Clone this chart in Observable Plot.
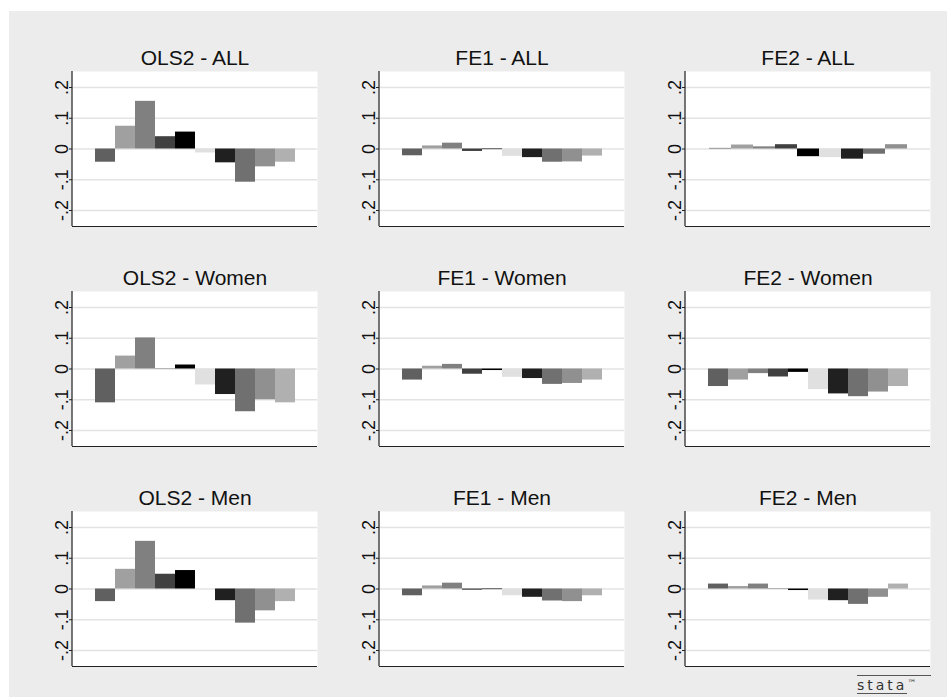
<!DOCTYPE html>
<html>
<head>
<meta charset="utf-8">
<script src="https://cdn.jsdelivr.net/npm/d3@7"></script>
<script src="https://cdn.jsdelivr.net/npm/@observablehq/plot@0.6"></script>
<style>
  html, body { margin: 0; padding: 0; background: #ffffff; }
  #wrap { position: relative; width: 947px; height: 697px; overflow: hidden; background: #ffffff; }
  #bg { position: absolute; left: 9px; top: 11px; width: 938px; height: 686px; background: #ececec; }
  .panel { position: absolute; }
  #logo { position: absolute; left: 857px; top: 675px; width: 74px; border-top: 1px solid #555;
          font-family: "DejaVu Sans", sans-serif; font-size: 14px; letter-spacing: 3px; color: #333;
          line-height: 13px; text-align: left; padding-top: 1px; white-space: nowrap; }
  #logo span { border-bottom: 1px solid #555; }
  #logo sup { font-size: 9px; letter-spacing: 0; vertical-align: 4px; }
</style>
</head>
<body>
<div id="wrap"><div id="bg"></div><div id="logo"><span>stata</span><sup>™</sup></div></div>
<script>
// ---- data ----
const categories = ["c1", "c2", "c3", "c4", "c5", "c6", "c7", "c8", "c9", "c10"];
const barColors = ["#606060", "#a0a0a0", "#808080", "#404040", "#000000",
                   "#e0e0e0", "#202020", "#707070", "#909090", "#b0b0b0"];
const yTicks = [-0.2, -0.1, 0, 0.1, 0.2];
const yTickLabels = ["-.2", "-.1", "0", ".1", ".2"];

const ols2All   = [-0.043, 0.074, 0.155, 0.040, 0.055, -0.013, -0.045, -0.108, -0.058, -0.043];
const fe1All    = [-0.022, 0.010, 0.019, -0.008, -0.002, -0.024, -0.028, -0.043, -0.042, -0.023];
const fe2All    = [0.002, 0.013, 0.007, 0.014, -0.025, -0.028, -0.033, -0.017, 0.014];
const ols2Women = [-0.110, 0.042, 0.101, 0.001, 0.013, -0.052, -0.083, -0.139, -0.100, -0.110];
const fe1Women  = [-0.036, 0.009, 0.015, -0.017, -0.005, -0.027, -0.031, -0.050, -0.047, -0.036];
const fe2Women  = [-0.057, -0.036, -0.015, -0.026, -0.011, -0.067, -0.081, -0.090, -0.075, -0.057];
const ols2Men   = [-0.041, 0.064, 0.155, 0.048, 0.060, 0.000, -0.038, -0.111, -0.071, -0.041];
const fe1Men    = [-0.022, 0.010, 0.019, -0.004, -0.002, -0.022, -0.027, -0.039, -0.041, -0.022];
const fe2Men    = [0.016, 0.008, 0.016, -0.001, -0.005, -0.036, -0.038, -0.050, -0.027, 0.016];

const panelTitles = [
  ["OLS2 - ALL", "FE1 - ALL", "FE2 - ALL"],
  ["OLS2 - Women", "FE1 - Women", "FE2 - Women"],
  ["OLS2 - Men", "FE1 - Men", "FE2 - Men"]
];
const panelValues = [
  [ols2All, fe1All, fe2All],
  [ols2Women, fe1Women, fe2Women],
  [ols2Men, fe1Men, fe2Men]
];

// ---- layout ----
const colAxisX = [72, 378.5, 685];
const rowTop = [71, 291, 511];
const mL = 40, mT = 40, mB = 4, innerW = 245, innerH = 155;
const yDomain = [-0.252, 0.252];

function panel(title, values) {
  const data = values.map((v, i) => ({cat: categories[i], v, color: barColors[i]}));
  const axisLine = (index, scales, vals, dim) => {
    const l = document.createElementNS("http://www.w3.org/2000/svg", "line");
    l.setAttribute("x1", dim.marginLeft); l.setAttribute("x2", dim.marginLeft);
    l.setAttribute("y1", dim.marginTop); l.setAttribute("y2", dim.height - dim.marginBottom);
    l.setAttribute("stroke", "#222"); l.setAttribute("stroke-width", "1.2");
    return l;
  };
  return Plot.plot({
    width: mL + innerW, height: mT + innerH + mB,
    marginLeft: mL, marginRight: 0, marginTop: mT, marginBottom: mB,
    style: {fontFamily: "'Liberation Sans', Arial, sans-serif", background: "transparent", overflow: "visible", color: "#222"},
    x: {type: "band", domain: data.map(d => d.cat), padding: 0, insetLeft: 20, insetRight: 20, axis: null},
    y: {domain: yDomain, label: null},
    color: {type: "identity"},
    marks: [
      Plot.frame({fill: "white", stroke: "none"}),
      Plot.gridY(yTicks, {stroke: "#e3e3e3", strokeOpacity: 1, strokeWidth: 1.5}),
      Plot.barY(data, {x: "cat", y: "v", fill: "color"}),
      Plot.ruleY([yDomain[0]], {stroke: "#222", strokeWidth: 1.2}),
      Plot.axisY({ticks: yTicks, tickSize: 3, tickFormat: () => "", label: null, stroke: "#222"}),
      axisLine,
      Plot.text(yTicks, {y: d => d, text: (d, i) => yTickLabels[i], frameAnchor: "left", dx: -5,
        rotate: -90, textAnchor: "middle", lineAnchor: "bottom", fontSize: 18, fill: "#111"}),
      Plot.text([title], {text: d => d, frameAnchor: "top", dy: -7, lineAnchor: "bottom",
        fontSize: 21, fill: "#111"})
    ]
  });
}

const wrap = document.getElementById("wrap");
for (let r = 0; r < 3; r++) {
  for (let c = 0; c < 3; c++) {
    const div = document.createElement("div");
    div.className = "panel";
    div.style.left = (colAxisX[c] - mL) + "px";
    div.style.top = (rowTop[r] - mT) + "px";
    div.appendChild(panel(panelTitles[r][c], panelValues[r][c]));
    wrap.appendChild(div);
  }
}
</script>
</body>
</html>
